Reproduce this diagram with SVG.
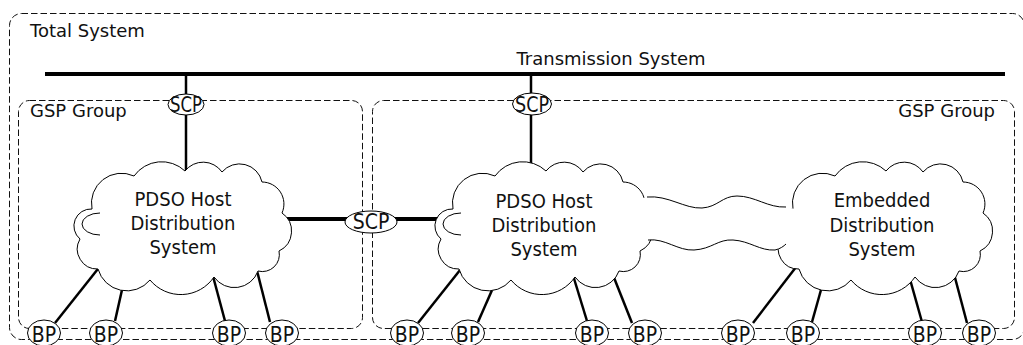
<svg xmlns="http://www.w3.org/2000/svg" width="1023" height="345" viewBox="0 0 1023 345">
  <defs>
    <style>
      .box{fill:none;stroke:#111;stroke-width:1;stroke-dasharray:6.5 3}
      .lbl{font-family:"DejaVu Sans",sans-serif;font-size:18px;fill:#111}
      .ct{font-family:"DejaVu Sans Condensed","DejaVu Sans",sans-serif;font-stretch:condensed;font-size:20px;text-anchor:middle;fill:#111}
      .pl{font-family:"DejaVu Sans Condensed","DejaVu Sans",sans-serif;font-stretch:condensed;font-size:21px;text-anchor:middle;fill:#111}
      .bus{stroke:#000;stroke-width:4;fill:none}
      .tap{stroke:#000;stroke-width:2.5;fill:none}
      .cloud{fill:#fff;stroke:#000;stroke-width:1}
      .pt{fill:#fff;stroke:#000;stroke-width:1}
      .wave{fill:none;stroke:#000;stroke-width:1}
    </style>
    <!-- cloud outline, 220 x 130 local box -->
    <path id="cloudShape" d="M20 46 A30 30 0 0 1 62 13 A34 34 0 0 1 113 8 A23 23 0 0 1 150 9 A23 23 0 0 1 190 19 A22 22 0 0 1 210 50 A22 22 0 0 1 207 88 A17 17 0 0 1 186 108 A25 25 0 0 1 142 114 A40 40 0 0 1 78 117 A30 30 0 0 1 26 106 A20 20 0 0 1 8 76 A17 17 0 0 1 20 46 Z"/>
    <path id="cloudLobe" d="M28 50 A18 11 0 0 0 28 72"/>
  </defs>

  <!-- system boundaries -->
  <g id="total-system">
    <rect class="box" x="9.5" y="13.5" width="1015" height="326" rx="12"/>
    <text class="lbl" x="30" y="37">Total System</text>
  </g>
  <g id="gsp-group-left">
    <rect class="box" x="18.5" y="100.5" width="344" height="228" rx="11"/>
    <text class="lbl" x="30" y="117">GSP Group</text>
  </g>
  <g id="gsp-group-right">
    <rect class="box" x="372.5" y="100.5" width="642" height="228" rx="11"/>
    <text class="lbl" x="995" y="117" text-anchor="end">GSP Group</text>
  </g>

  <!-- connectors -->
  <g id="connectors">
    <line class="bus" x1="45" y1="74" x2="1005" y2="74"/>
    <text class="lbl" x="611" y="65" text-anchor="middle">Transmission System</text>
    <line class="tap" x1="186" y1="74" x2="186" y2="185"/>
    <line class="tap" x1="531" y1="74" x2="531" y2="185"/>
    <line class="bus" x1="280" y1="219" x2="445" y2="219"/>
    <!-- left host to BPs -->
    <line class="tap" x1="105" y1="260" x2="55" y2="323"/>
    <line class="tap" x1="126" y1="272" x2="115" y2="321"/>
    <line class="tap" x1="210" y1="265" x2="225" y2="321"/>
    <line class="tap" x1="253" y1="255" x2="270" y2="322"/>
    <!-- middle host to BPs -->
    <line class="tap" x1="468" y1="260" x2="418" y2="323"/>
    <line class="tap" x1="500" y1="272" x2="478" y2="322"/>
    <line class="tap" x1="572" y1="272" x2="587" y2="321"/>
    <line class="tap" x1="605" y1="255" x2="632" y2="323"/>
    <!-- embedded to BPs -->
    <line class="tap" x1="803" y1="258" x2="753" y2="323"/>
    <line class="tap" x1="826" y1="272" x2="812" y2="322"/>
    <line class="tap" x1="906" y1="265" x2="922" y2="322"/>
    <line class="tap" x1="949" y1="255" x2="967" y2="323"/>
  </g>

  <!-- distribution systems -->
  <g id="pdso-host-left">
    <use href="#cloudShape" class="cloud" transform="translate(72 163)"/>
    <use href="#cloudLobe" class="wave" transform="translate(72 163)"/>
    <text class="ct" x="183" y="206">PDSO Host</text>
    <text class="ct" x="183" y="230">Distribution</text>
    <text class="ct" x="183" y="254">System</text>
  </g>
  <g id="pdso-host-mid">
    <use href="#cloudShape" class="cloud" transform="translate(433 163)"/>
    <use href="#cloudLobe" class="wave" transform="translate(433 163)"/>
  </g>
  <g id="embedded">
    <use href="#cloudShape" class="cloud" transform="translate(773 163)"/>
  </g>
  <g id="embedded-link">
    <path d="M635 200 L647 197 C668 195 685 209 702 208 C718 207 722 196 737 196 C755 196 768 208 786 207 L800 210 L800 243 L786 244 C781 247 779 250 775 250 C760 251 750 241 733 240 C718 239 712 249 694 250 C678 251 665 238 648 240 L635 236 Z" fill="#fff" stroke="none"/>
    <path class="wave" d="M647 197 C668 195 685 209 702 208 C718 207 722 196 737 196 C755 196 768 208 786 207"/>
    <path class="wave" d="M648 240 C665 238 678 251 694 250 C712 249 718 239 733 240 C750 241 760 251 775 250 C780 249 784 246 786 244"/>
  </g>
  <g id="pdso-host-mid-label">
    <text class="ct" x="544" y="208">PDSO Host</text>
    <text class="ct" x="544" y="232">Distribution</text>
    <text class="ct" x="544" y="256">System</text>
  </g>
  <g id="embedded-label">
    <text class="ct" x="882" y="207">Embedded</text>
    <text class="ct" x="882" y="232">Distribution</text>
    <text class="ct" x="882" y="256">System</text>
  </g>

  <!-- supply connection points -->
  <g id="scp-left">
    <ellipse class="pt" cx="186" cy="104.5" rx="18" ry="10.5"/>
    <text class="pl" x="186" y="112" textLength="32" lengthAdjust="spacingAndGlyphs">SCP</text>
  </g>
  <g id="scp-mid">
    <ellipse class="pt" cx="532" cy="104" rx="19.5" ry="11"/>
    <text class="pl" x="532" y="111.5" textLength="34" lengthAdjust="spacingAndGlyphs">SCP</text>
  </g>
  <g id="scp-link">
    <ellipse class="pt" cx="371" cy="222" rx="26" ry="11"/>
    <text class="pl" x="371" y="229">SCP</text>
  </g>

  <!-- boundary points -->
  <g id="bp-1"><ellipse class="pt" cx="44" cy="333" rx="16.5" ry="13"/><text class="pl" x="44" y="341.5">BP</text></g>
  <g id="bp-2"><ellipse class="pt" cx="106" cy="333" rx="16.5" ry="13"/><text class="pl" x="106" y="341.5">BP</text></g>
  <g id="bp-3"><ellipse class="pt" cx="229" cy="333" rx="16.5" ry="13"/><text class="pl" x="229" y="341.5">BP</text></g>
  <g id="bp-4"><ellipse class="pt" cx="282" cy="333" rx="16.5" ry="13"/><text class="pl" x="282" y="341.5">BP</text></g>
  <g id="bp-5"><ellipse class="pt" cx="407" cy="333" rx="16.5" ry="13"/><text class="pl" x="407" y="341.5">BP</text></g>
  <g id="bp-6"><ellipse class="pt" cx="468" cy="333" rx="16.5" ry="13"/><text class="pl" x="468" y="341.5">BP</text></g>
  <g id="bp-7"><ellipse class="pt" cx="592" cy="333" rx="16.5" ry="13"/><text class="pl" x="592" y="341.5">BP</text></g>
  <g id="bp-8"><ellipse class="pt" cx="645" cy="333" rx="16.5" ry="13"/><text class="pl" x="645" y="341.5">BP</text></g>
  <g id="bp-9"><ellipse class="pt" cx="738" cy="333" rx="16.5" ry="13"/><text class="pl" x="738" y="341.5">BP</text></g>
  <g id="bp-10"><ellipse class="pt" cx="803" cy="333" rx="16.5" ry="13"/><text class="pl" x="803" y="341.5">BP</text></g>
  <g id="bp-11"><ellipse class="pt" cx="925" cy="333" rx="16.5" ry="13"/><text class="pl" x="925" y="341.5">BP</text></g>
  <g id="bp-12"><ellipse class="pt" cx="979" cy="333" rx="16.5" ry="13"/><text class="pl" x="979" y="341.5">BP</text></g>
</svg>
